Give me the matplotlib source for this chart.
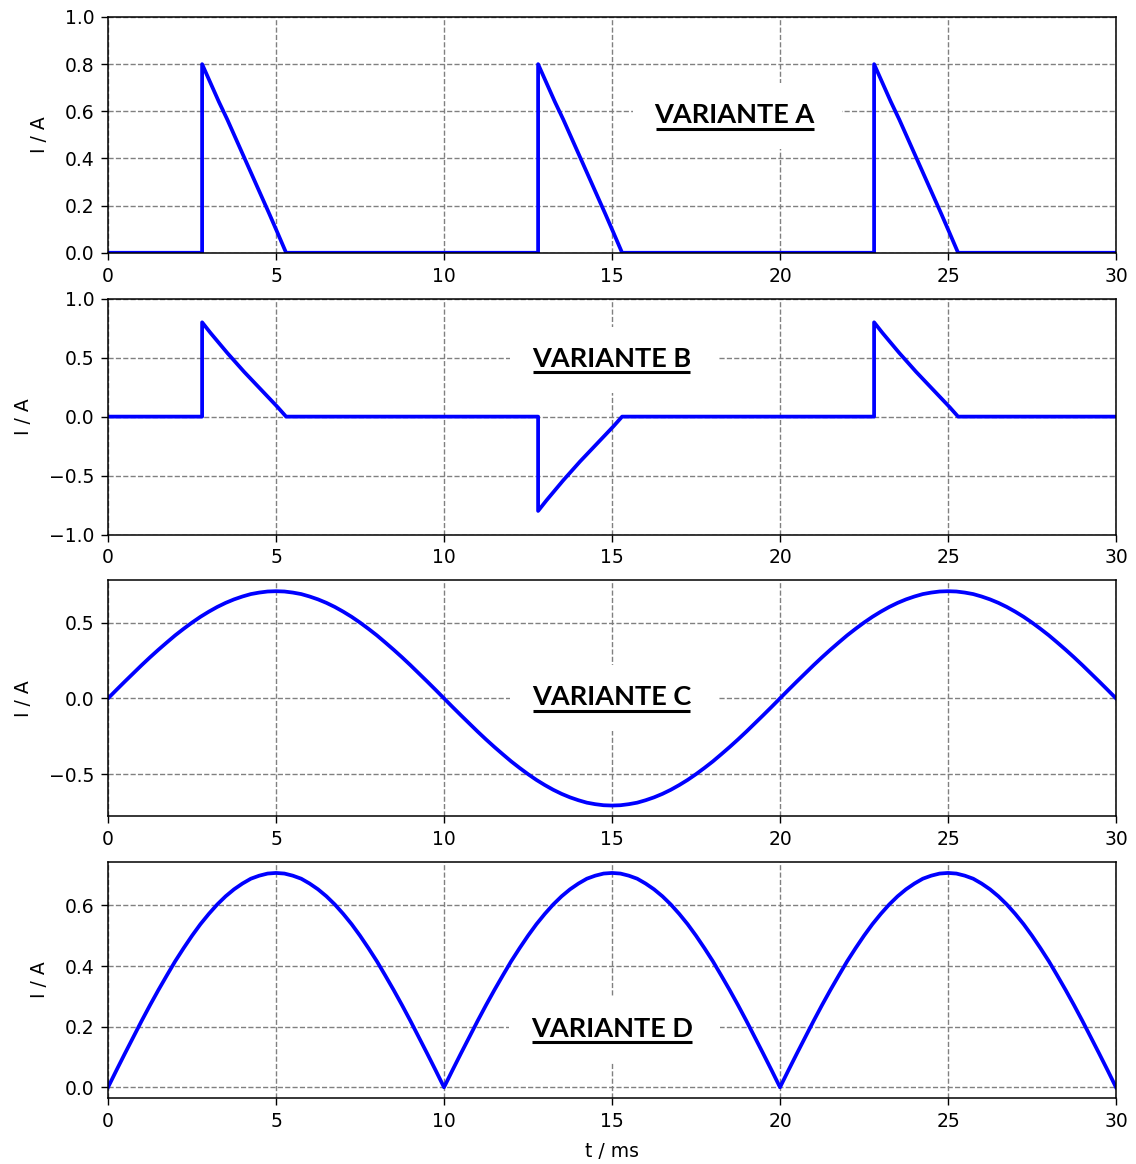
import numpy as np
import matplotlib
matplotlib.use('Agg')
import matplotlib.pyplot as plt
from matplotlib.patches import Rectangle

# --- values (t in ms, I in A) ---
# one current pulse after firing at 2.8 ms, repeated every 10 ms
pulse_t = [2.8, 3.05, 3.3, 3.55, 3.8, 4.05, 4.3, 4.55, 4.8, 5.05, 5.3]
pulse_a = [0.80, 0.72, 0.64, 0.565, 0.485, 0.405, 0.325, 0.245, 0.165, 0.083, 0]
pulse_b = [0.80, 0.71, 0.625, 0.54, 0.46, 0.38, 0.305, 0.23, 0.155, 0.08, 0]
pulse_start = [0, 10, 20]
sign_b = [1, -1, 1]

# half wave of the sine current, 0..10 ms in 0.25 ms steps
half_wave = [0, 0.056, 0.111, 0.165, 0.219, 0.271, 0.321, 0.369, 0.416, 0.459,
             0.500, 0.538, 0.572, 0.603, 0.630, 0.653, 0.672, 0.688, 0.698, 0.705,
             0.707, 0.705, 0.698, 0.688, 0.672, 0.653, 0.630, 0.603, 0.572, 0.538,
             0.500, 0.459, 0.416, 0.369, 0.321, 0.271, 0.219, 0.165, 0.111, 0.056, 0]

labels = ['VARIANTE A', 'VARIANTE B', 'VARIANTE C', 'VARIANTE D']
label_pos = [(18.65, 0.549), (14.98, 0.425), (14.98, -0.047), (15.01, 0.166)]

# build the series
t_a, i_a, t_b, i_b = [0], [0], [0], [0]
for s, sg in zip(pulse_start, sign_b):
    t_a += [pulse_t[0] + s] + [p + s for p in pulse_t]
    i_a += [0] + pulse_a
    t_b += [pulse_t[0] + s] + [p + s for p in pulse_t]
    i_b += [0] + [sg * v for v in pulse_b]
t_a.append(30); i_a.append(0)
t_b.append(30); i_b.append(0)

t_cd = np.arange(0, 30.01, 0.25)
i_c = half_wave + [-v for v in half_wave[1:]] + half_wave[1:]
i_d = half_wave + half_wave[1:] + half_wave[1:]

fig, axs = plt.subplots(4, 1, figsize=(11.36, 11.64), dpi=100)
fig.subplots_adjust(left=0.0951, right=0.9824, top=0.9854, bottom=0.0567, hspace=0.195)

series = [(t_a, i_a), (t_b, i_b), (t_cd, i_c), (t_cd, i_d)]
for ax, (t, i) in zip(axs, series):
    ax.plot(t, i, color='blue', lw=2.7, zorder=2)
    ax.set_xlim(0, 30)
    ax.set_xticks([0, 5, 10, 15, 20, 25, 30])
    ax.grid(True, color='gray', linestyle='--', lw=1.0)
    ax.set_ylabel('I / A', fontsize=13.5, labelpad=11)
    ax.tick_params(labelsize=13.5, length=5, width=1, pad=5)
    for sp in ax.spines.values():
        sp.set_linewidth(1.1)

axs[0].set_ylim(0, 1.0)
axs[0].set_yticks([0, 0.2, 0.4, 0.6, 0.8, 1.0])
axs[1].set_ylim(-1.0, 1.0)
axs[1].set_yticks([-1.0, -0.5, 0, 0.5, 1.0])
axs[2].set_yticks([-0.5, 0, 0.5])
axs[3].set_yticks([0, 0.2, 0.4, 0.6])
axs[3].set_xlabel('t / ms', fontsize=13.5, labelpad=8)

texts = []
for ax, lab, (x, y) in zip(axs, labels, label_pos):
    txt = ax.text(x, y, lab, ha='center', va='baseline', fontsize=19.5,
                  fontweight='bold', family='Lato', zorder=5)
    texts.append((ax, txt, x, y))

# white box behind each label, underline below it (sizes in pixels)
fig.canvas.draw()
r = fig.canvas.get_renderer()
for ax, txt, x, y in texts:
    bb = txt.get_window_extent(renderer=r)
    base = ax.transData.transform((x, y))[1]
    inv = ax.transData.inverted()
    x0, y0 = inv.transform((bb.x0 - 22, base - 26))
    x1, y1 = inv.transform((bb.x1 + 27, bb.y1 + 20))
    ax.add_patch(Rectangle((x0, y0), x1 - x0, y1 - y0, facecolor='white',
                           edgecolor='none', zorder=3, clip_on=False))
    ux0, uy = inv.transform((bb.x0 + 1, base - 5.5))
    ux1, _ = inv.transform((bb.x1 - 1, base - 5.5))
    ax.plot([ux0, ux1], [uy, uy], color='black', lw=2.2,
            solid_capstyle='butt', zorder=5, clip_on=False)

fig.savefig('out.png', dpi=100)
